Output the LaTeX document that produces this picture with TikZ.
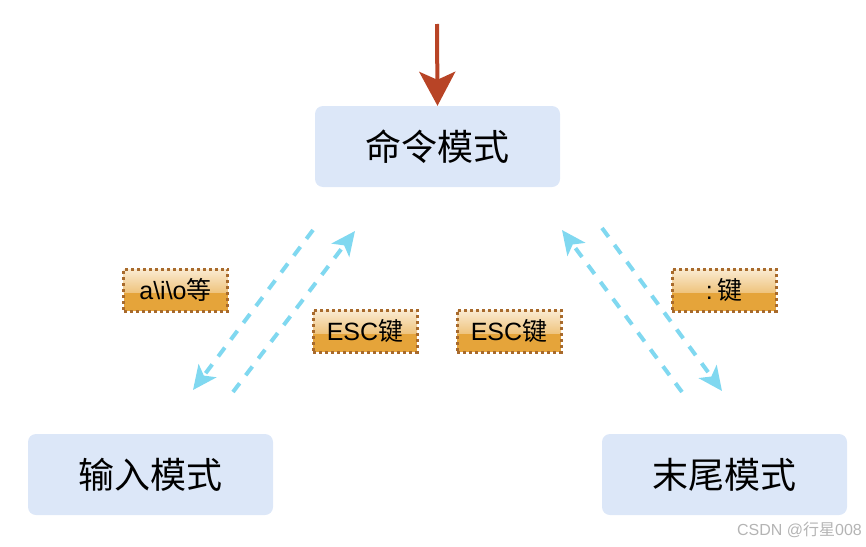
\documentclass[tikz,border=0pt]{standalone}
\usepackage{fontspec}
\setmainfont{Noto Sans CJK SC}
\newfontfamily\latinsans{Liberation Sans}
\usetikzlibrary{arrows.meta}
\definecolor{modefill}{HTML}{DCE7F8}
\definecolor{startred}{HTML}{B84426}
\definecolor{flowcyan}{HTML}{80D8F0}
\definecolor{tagorange}{HTML}{E5A43A}
\definecolor{taglight}{HTML}{FAEBD2}
\definecolor{tagedge}{HTML}{A86A2C}
\definecolor{markgray}{HTML}{B4B4B4}
\tikzset{
  mode/.style={fill=modefill, rounded corners=8pt, minimum width=245pt,
    minimum height=81pt, inner sep=0pt,
    font=\fontsize{36}{40}\selectfont},
  tag/.style={fill=tagorange, minimum width=104pt, minimum height=42pt,
    inner sep=0pt, font=\fontsize{25}{28}\selectfont,
    draw=tagedge, line width=3pt, dash pattern=on 3pt off 3pt,
    path picture={\fill[top color=taglight, bottom color=tagorange]
      (path picture bounding box.north west) rectangle
      ([yshift=-2pt]path picture bounding box.east);}},
  flow/.style={draw=flowcyan, line width=4pt, dash pattern=on 11pt off 10pt,
    -{Stealth[length=24pt, width=22pt, inset=6pt, fill=flowcyan]}},
  entry/.style={draw=startred, line width=4pt,
    -{Stealth[length=34pt, width=36pt, inset=8pt]}}
}
\begin{document}
\begin{tikzpicture}[x=1pt, y=-1pt]
\useasboundingbox (0,0) rectangle (866,546);

% three editor modes
\node[mode] (cmd) at (437.5,146.5) {命令模式};
\node[mode] (ins) at (150.5,474.5) {输入模式};
\node[mode] (tail) at (724.5,474.5) {末尾模式};

% entry arrow into command mode
\coordinate (start) at (437,24);
\draw[entry] (start) -- (cmd.north);

% ends of the transition arrows
\coordinate (a1) at (313,230);
\coordinate (a2) at (193,390);
\coordinate (b1) at (233,392);
\coordinate (b2) at (355,231);
\coordinate (c1) at (602,228);
\coordinate (c2) at (722,391);
\coordinate (d1) at (682,392);
\coordinate (d2) at (562,230);

\draw[flow] (a1) -- (a2);
\draw[flow] (b1) -- (b2);
\draw[flow] (c1) -- (c2);
\draw[flow] (d1) -- (d2);

% key labels
\node[tag] (kins) at (175.5,290) {{\latinsans a\textbackslash i\textbackslash o}等};
\node[tag] (kesc1) at (365,331) {{\latinsans ESC}键};
\node[tag] (kesc2) at (509,331) {{\latinsans ESC}键};
\node[tag] (kcolon) at (724,290) {{\latinsans :\,}键};

% watermark
\node[text=markgray, font=\fontsize{16}{18}\selectfont, anchor=east, inner sep=0pt]
  (mark) at (862,530) {{\latinsans CSDN @}行星{\latinsans 008}};
\end{tikzpicture}
\end{document}
